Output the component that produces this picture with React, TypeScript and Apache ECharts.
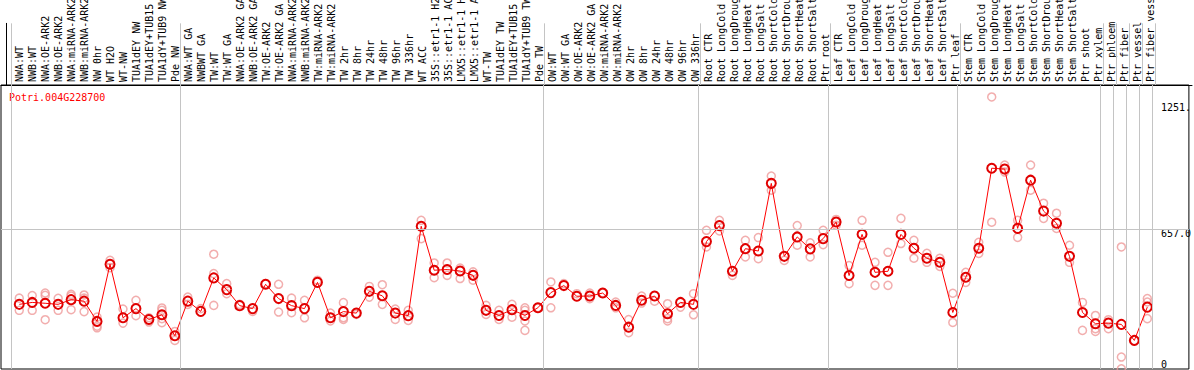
import React, { useEffect, useRef } from "react";
import * as echarts from "echarts";

const geneName = "Potri.004G228700";

const samples = [
  "NWA:WT", "NWB:WT", "NWA:OE-ARK2", "NWB:OE-ARK2", "NWA:miRNA-ARK2", "NWB:miRNA-ARK2",
  "NW 0hr", "WT H2O", "WT-NW", "TUA1dEY NW", "TUA1dEY+TUB15", "TUA1dY+TUB9 NW", "Pde NW",
  "NWA:WT GA", "NWBWT GA", "TW:WT", "TW:WT GA", "NWA:OE-ARK2 GA", "NWB:OE-ARK2 GA",
  "TW:OE-ARK2", "TW:OE-ARK2 GA", "NWA:miRNA-ARK2", "NWB:miRNA-ARK2", "TW:miRNA-ARK2",
  "TW:miRNA-ARK2", "TW 2hr", "TW 8hr", "TW 24hr", "TW 48hr", "TW 96hr", "TW 336hr", "WT ACC",
  "35S::etr1-1 H2O", "35S::etr1-1 ACC", "LMX5::etr1-1 H2O", "LMX5::etr1-1 ACC", "WT-TW",
  "TUA1dEY TW", "TUA1dEY+TUB15", "TUA1dY+TUB9 TW", "Pde TW",
  "OW:WT", "OW:WT GA", "OW:OE-ARK2", "OW:OE-ARK2 GA", "OW:miRNA-ARK2", "OW:miRNA-ARK2",
  "OW 2hr", "OW 8hr", "OW 24hr", "OW 48hr", "OW 96hr", "OW 336hr",
  "Root CTR", "Root LongCold", "Root LongDrought", "Root LongHeat", "Root LongSalt",
  "Root ShortCold", "Root ShortDrought", "Root ShortHeat", "Root ShortSalt", "Ptr root",
  "Leaf CTR", "Leaf LongCold", "Leaf LongDrought", "Leaf LongHeat", "Leaf LongSalt",
  "Leaf ShortCold", "Leaf ShortDrought", "Leaf ShortHeat", "Leaf ShortSalt", "Ptr leaf",
  "Stem CTR", "Stem LongCold", "Stem LongDrought", "Stem LongHeat", "Stem LongSalt",
  "Stem ShortCold", "Stem ShortDrought", "Stem ShortHeat", "Stem ShortSalt", "Ptr shoot",
  "Ptr xylem", "Ptr phloem", "Ptr fiber", "Ptr vessel", "Ptr fiber vessel",
];

const meanValues = [
  303, 312, 308, 303, 325, 318, 223, 491, 240, 283, 232, 254, 156,
  318, 270, 427, 372, 297, 283, 397, 330, 297, 283, 406, 240, 269, 262, 364, 343, 262, 250,
  669, 463, 466, 459, 439, 275, 251, 278, 251, 287,
  358, 391, 341, 342, 356, 298, 196, 322, 342, 259, 312, 303,
  597, 672, 458, 564, 553, 870, 528, 619, 563, 611,
  689, 438, 631, 453, 458, 631, 566, 519, 500, 265,
  430, 566, 941, 937, 659, 885, 740, 683, 528, 265,
  212, 215, 209, 134, 290,
];

const replicateValues: number[][] = [
  [332, 275], [344, 275], [356, 345, 231], [331, 275], [350, 342, 278], [347, 332, 269],
  [243, 201, 193], [509, 475], [281, 215], [322, 250], [220, 240], [286, 275, 217, 236],
  [176, 134],
  [337, 303], [283], [538, 447, 298], [400, 353], [303], [270], [400], [397, 267],
  [332, 264], [322, 240], [416], [262, 225], [311, 240, 232], [256], [387, 337], [395, 303],
  [281, 232], [275, 228], [697, 611], [497, 428], [497, 439], [473, 424], [455, 416],
  [298, 256], [275, 232], [303, 243], [287, 275, 225, 181], [287],
  [408, 287], [400], [353], [356, 330], [356], [314, 287], [232, 170], [342, 309], [318],
  [306, 236, 225], [290], [353, 254],
  [650, 572], [697, 647], [439], [603, 525], [616, 517], [904, 838], [509], [672, 580],
  [591, 525], [650, 583],
  [701, 674], [485, 400], [697, 580], [500, 392], [547, 392], [706, 588], [603, 519],
  [542, 500], [519, 481], [355, 218],
  [453, 406], [594, 542], [1275, 688], [956, 923], [697, 617], [956, 838], [777, 706],
  [730, 659], [580, 500], [312, 181],
  [251, 176, 189], [231, 189], [572, 56, 1], [134], [330, 314, 236],
];

// separators drawn after these sample positions
const groupBoundaries = [0, 13, 41, 53, 63, 73, 84, 85, 86, 87, 88];
const yTickValues = [657, 1251];
const yTickLabels = ["657.0", "1251."];
const yZeroValues = [0];

export default function App() {
  const ref = useRef<HTMLDivElement>(null);

  useEffect(() => {
    const chart = echarts.init(ref.current!, null, { renderer: "svg" });
    const font = "'DejaVu Sans Mono', monospace";
    const xMin = -0.4077;
    const xMax = 91.208;
    const positions = samples.map((_, i) => i + 1);
    const scatterData: number[][] = [];
    replicateValues.forEach((reps, i) => reps.forEach((v) => scatterData.push([i + 1, v])));
    const sepLines = groupBoundaries.map((k) => ({ xAxis: k + 0.38 }));
    const gray = "#c4c4c4";

    chart.setOption({
      animation: false,
      grid: [
        { left: 1, right: 2, top: 0, height: 85 },
        { left: 1, right: 2, top: 85, bottom: 1, show: true, borderColor: "#000", borderWidth: 1 },
      ],
      xAxis: [
        {
          gridIndex: 0, type: "value", min: xMin, max: xMax, position: "bottom",
          axisLine: { show: true, lineStyle: { color: "#000", width: 1 } },
          axisTick: { show: false }, splitLine: { show: false },
          axisLabel: {
            inside: true, rotate: 90, margin: 3, customValues: positions,
            formatter: (v: number) => samples[Math.round(v) - 1] ?? "",
            fontFamily: font, fontSize: 10, color: "#000",
          },
        },
        { gridIndex: 1, type: "value", min: xMin, max: xMax, show: false },
      ],
      yAxis: [
        {
          gridIndex: 0, type: "value", min: 0, max: 1, position: "right",
          axisLine: { show: true, lineStyle: { color: "#000" } },
          axisTick: { show: false }, axisLabel: { show: false }, splitLine: { show: false },
        },
        {
          gridIndex: 1, type: "value", min: 0, max: 1331, position: "right",
          axisLine: { show: false }, axisTick: { show: false }, splitLine: { show: false },
          axisLabel: {
            inside: true, align: "left", verticalAlign: "top", margin: 28,
            customValues: yTickValues,
            formatter: (v: number) => yTickLabels[yTickValues.indexOf(v)] ?? String(v),
            fontFamily: font, fontSize: 10, color: "#000",
          },
        },
        {
          gridIndex: 1, type: "value", min: 0, max: 1331, position: "right",
          axisLine: { show: false }, axisTick: { show: false }, splitLine: { show: false },
          axisLabel: {
            inside: true, align: "left", verticalAlign: "bottom", margin: 28,
            customValues: yZeroValues,
            formatter: (v: number) => String(v),
            fontFamily: font, fontSize: 10, color: "#000",
          },
        },
      ],
      graphic: [
        {
          type: "text", left: 9, top: 92, silent: true,
          style: { text: geneName, fill: "#ff0000", font: `10px ${font}` },
        },
      ],
      series: [
        {
          type: "line", xAxisIndex: 0, yAxisIndex: 0, data: [[xMin, -1]], symbol: "none",
          lineStyle: { opacity: 0 },
          markLine: {
            silent: true, symbol: "none", label: { show: false },
            lineStyle: { color: gray, type: "solid", width: 1 }, data: sepLines,
          },
        },
        {
          type: "scatter", xAxisIndex: 1, yAxisIndex: 1, data: scatterData,
          symbol: "circle", symbolSize: 8,
          itemStyle: { color: "rgba(0,0,0,0)", borderColor: "#ef9a9a", borderWidth: 1.5 },
          markLine: {
            silent: true, symbol: "none", label: { show: false },
            lineStyle: { color: gray, type: "solid", width: 1 },
            data: [...sepLines, { yAxis: yTickValues[0] }],
          },
        },
        {
          type: "line", xAxisIndex: 1, yAxisIndex: 1,
          data: meanValues.map((v, i) => [i + 1, v]),
          symbol: "circle", symbolSize: 9, showSymbol: true,
          lineStyle: { color: "#ff0000", width: 1 },
          itemStyle: { color: "rgba(0,0,0,0)", borderColor: "#e00000", borderWidth: 2 },
        },
      ],
    });
    return () => chart.dispose();
  }, []);

  return (
    <div
      ref={ref}
      style={{ position: "fixed", left: 0, top: 0, width: 1194, height: 370, background: "#fff" }}
    />
  );
}
